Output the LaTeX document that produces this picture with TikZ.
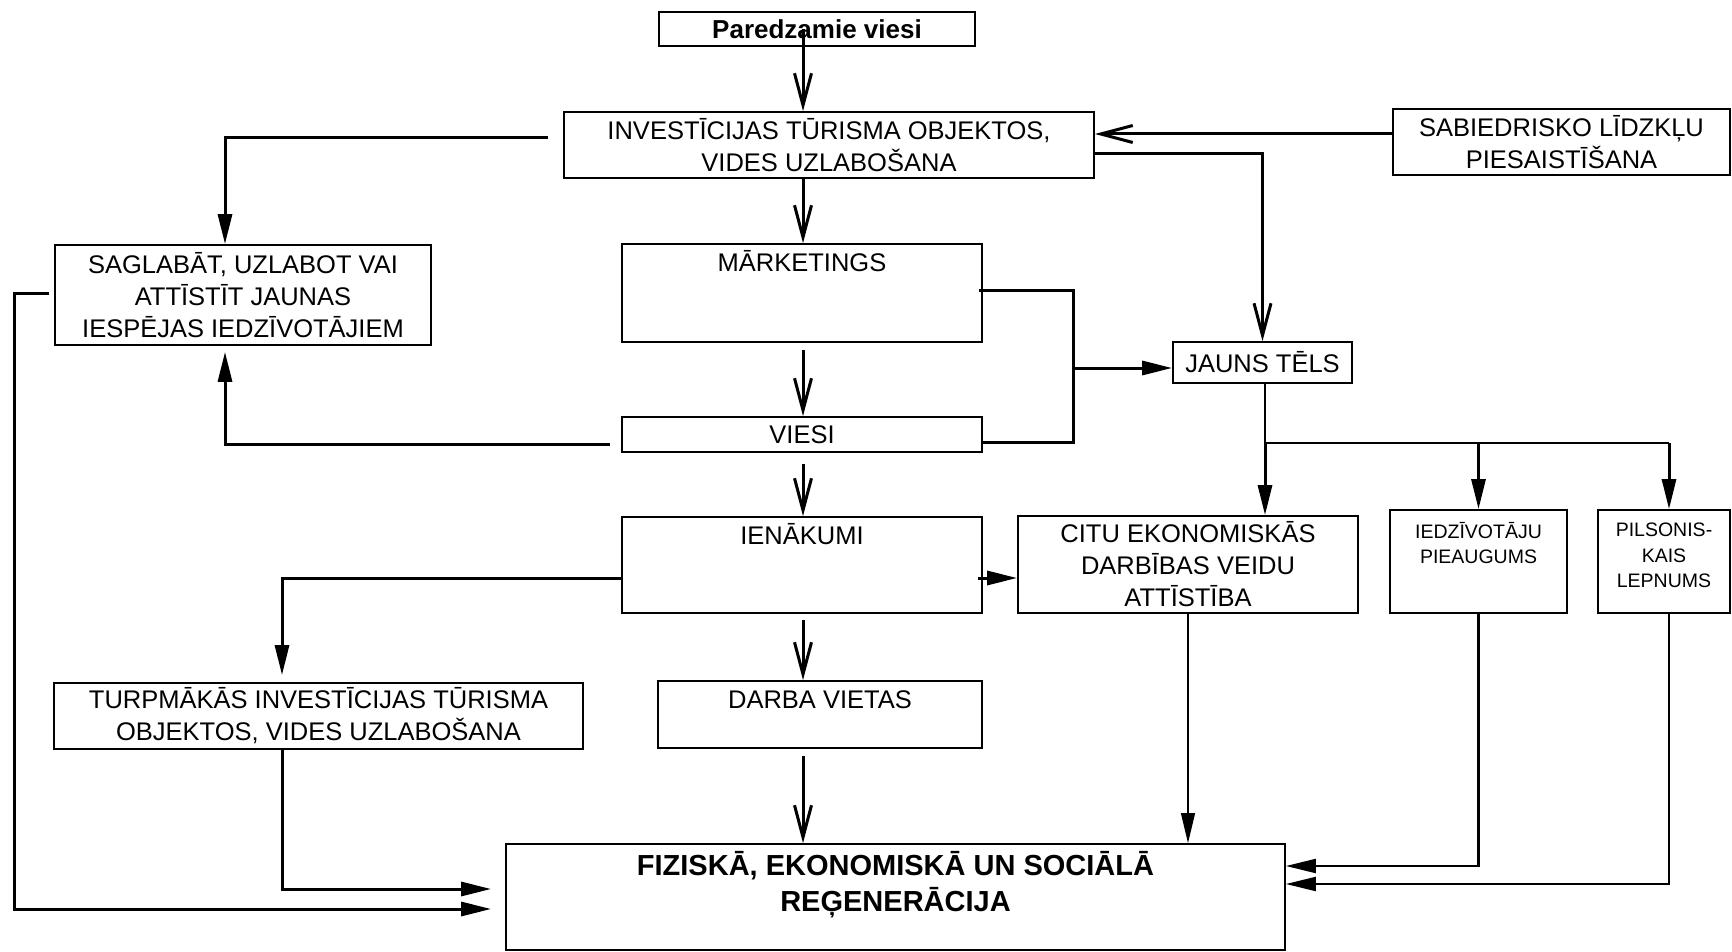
\documentclass[tikz,border=0pt]{standalone}
\usepackage{fontspec}
\setmainfont{Liberation Sans}
\usetikzlibrary{arrows.meta}
\newcommand{\midcol}{803}
\newcommand{\lftcol}{225}
\newcommand{\turcol}{282}
\newcommand{\edgecol}{14}
\begin{document}
\begin{tikzpicture}[x=1pt,y=-1pt,
  blk/.style={draw,line width=1.8pt,inner sep=0pt,align=center,font=\fontsize{25.5}{32}\selectfont},
  toptext/.style={anchor=north,inner sep=5pt,text height=23pt,align=center,font=\fontsize{25.5}{32}\selectfont},
  smalltop/.style={anchor=north,inner sep=14pt,align=center,font=\fontsize{19.5}{25.5}\selectfont},
  lnk/.style={line width=3pt},
  mid/.style={line width=2.2pt},
  thn/.style={line width=1.3pt},
  arrfill/.style={-{Triangle[length=30pt,width=14pt]}},
  arropen/.style={-{Straight Barb[length=32pt,width=17pt]}}]
\useasboundingbox (0,0) rectangle (1732,952);

% boxes
\node[blk,minimum width=316pt,minimum height=34pt,font=\bfseries\fontsize{26}{30}\selectfont] (par) at (817,29) {Paredzamie viesi};
\node[blk,minimum width=530pt,minimum height=66pt] (inv) at (829,145) {INVESTĪCIJAS TŪRISMA OBJEKTOS,\\VIDES UZLABOŠANA};
\node[blk,minimum width=337pt,minimum height=66pt] (sab) at (1561.5,142) {SABIEDRISKO LĪDZKĻU\\PIESAISTĪŠANA};
\node[blk,minimum width=376pt,minimum height=100pt] (sag) at (243,295) {SAGLABĀT, UZLABOT VAI\\ATTĪSTĪT JAUNAS\\IESPĒJAS IEDZĪVOTĀJIEM};
\node[blk,minimum width=360pt,minimum height=98pt,label={[toptext]north:MĀRKETINGS}] (mark) at (802,293) {};
\node[blk,minimum width=179pt,minimum height=41pt] (jauns) at (1262.5,362.5) {JAUNS TĒLS};
\node[blk,minimum width=360pt,minimum height=35pt] (viesi) at (802,434.5) {VIESI};
\node[blk,minimum width=360pt,minimum height=96pt,label={[toptext]north:IENĀKUMI}] (ien) at (802,565) {};
\node[blk,minimum width=340pt,minimum height=97pt] (citu) at (1188,564.5) {CITU EKONOMISKĀS\\DARBĪBAS VEIDU\\ATTĪSTĪBA};
\node[blk,minimum width=177pt,minimum height=103pt,label={[smalltop,inner sep=13pt]north:IEDZĪVOTĀJU\\PIEAUGUMS}] (iedz) at (1478.5,561.5) {};
\node[blk,minimum width=132pt,minimum height=103pt,label={[smalltop]north:PILSONIS-\\KAIS\\LEPNUMS}] (pils) at (1664,561.5) {};
\node[blk,minimum width=529pt,minimum height=66pt] (turp) at (318.5,716) {TURPMĀKĀS INVESTĪCIJAS TŪRISMA\\OBJEKTOS, VIDES UZLABOŠANA};
\node[blk,minimum width=324pt,minimum height=67pt,label={[toptext]north:DARBA VIETAS}] (darba) at (820,714.5) {};
\node[blk,minimum width=779pt,minimum height=106pt,label={[anchor=north,inner sep=8pt,align=center,font=\bfseries\fontsize{29}{36}\selectfont]north:FIZISKĀ, EKONOMISKĀ UN SOCIĀLĀ\\REĢENERĀCIJA}] (fiz) at (895.5,897) {};

% helper points
\coordinate (axis) at (\midcol,0);
\coordinate (lcol) at (\lftcol,0);
\coordinate (tcol) at (\turcol,0);
\coordinate (ecol) at (\edgecol,600);
\coordinate (jfork) at (1073,368);
\coordinate (bus) at (1265,443);
\coordinate (pcol) at (1669,0);

% main column
\draw[lnk,arropen] (par.center -| axis) -- (inv.north -| axis);
\draw[lnk,arropen] (inv.south -| axis) -- (mark.north -| axis);
\draw[lnk,arropen,shorten <=7pt] (mark.south -| axis) -- (viesi.north -| axis);
\draw[lnk,arropen,shorten <=11pt] (viesi.south -| axis) -- (ien.north -| axis);
\draw[lnk,arropen,shorten <=6pt] (ien.south -| axis) -- (darba.north -| axis);
\draw[lnk,arropen,shorten <=7pt] (darba.south -| axis) -- (fiz.north -| axis);

% top branches
\draw[lnk,arrfill,shorten <=15pt] ([yshift=7pt]inv.west) -| (lcol |- sag.north);
\draw[lnk,arropen] ([yshift=8pt]sab.west) -- ([yshift=8pt]sab.west -| inv.east);
\draw[lnk,arropen] ([yshift=-9pt]inv.east) -| (jauns.north);

% to JAUNS TELS
\draw[lnk] ([yshift=3pt,xshift=-4pt]mark.east) -| (jfork) |- ([yshift=-8pt]viesi.east);
\draw[lnk,arrfill] (jfork) -- (jfork -| jauns.west);

% back to SAGLABAT
\draw[lnk,arrfill,shorten <=11pt,shorten >=6pt] ([yshift=-10pt]viesi.west) -| (lcol |- sag.south);

% from IENAKUMI
\draw[lnk,arrfill,shorten >=7pt] ([yshift=-13pt]ien.west) -| (tcol |- turp.north);
\draw[lnk,arrfill] ([yshift=-13pt,xshift=-5pt]ien.east) -- ([yshift=-13pt]ien.east -| citu.west);

% from JAUNS TELS
\draw[thn] (jauns.south -| bus) -- (bus);
\draw[mid] (bus) -- (bus -| pcol);
\draw[lnk,arrfill] (bus) -- (bus |- citu.north);
\draw[lnk,arrfill] (bus -| iedz.north) -- (iedz.north);
\draw[lnk,arrfill] (bus -| pcol) -- (pcol |- pils.north);

% into FIZISKA
\draw[thn,arrfill] (citu.south) -- (citu.south |- fiz.north);
\draw[mid,arrfill] (iedz.south) |- ([yshift=31pt]fiz.east);
\draw[mid,arrfill] (pcol |- pils.south) |- ([yshift=13pt]fiz.east);
\draw[lnk,arrfill,shorten >=14pt] (tcol |- turp.south) |- ([yshift=8pt]fiz.west);
\draw[lnk,arrfill,shorten <=5pt,shorten >=14pt] ([yshift=2pt]sag.west) -| (ecol) |- ([yshift=-12pt]fiz.west);
\end{tikzpicture}
\end{document}
